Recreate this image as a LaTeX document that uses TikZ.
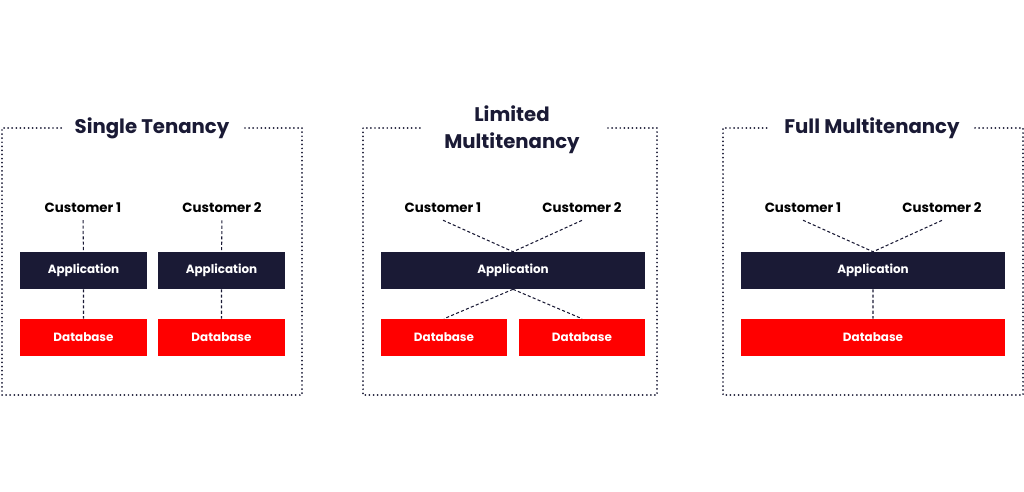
\documentclass[tikz,border=0pt]{standalone}
\usepackage{fontspec}
\setmainfont{Poppins}
\usetikzlibrary{positioning}
\definecolor{navy}{HTML}{1A1A35}
\definecolor{dbred}{HTML}{FF0000}
\tikzset{
  frame/.style={draw=navy, line width=1.4pt, line cap=round, dash pattern=on 0pt off 2.9pt},
  paneltitle/.style={text=navy, font=\fontsize{14}{19}\selectfont\bfseries, align=center},
  customer/.style={text=black, font=\fontsize{9.5}{11}\selectfont\bfseries, inner xsep=0pt, inner ysep=5pt},
  appbox/.style={fill=navy, text=white, minimum width=3.15cm, minimum height=0.925cm, inner sep=0pt, font=\fontsize{8.5}{10}\selectfont\bfseries},
  widebox/.style={appbox, minimum width=6.6cm},
  dbbox/.style={appbox, fill=dbred},
  widedb/.style={dbbox, minimum width=6.6cm},
  link/.style={draw=navy, dash pattern=on 2.2pt off 1.6pt, line width=0.75pt}
}
\begin{document}
\begin{tikzpicture}[x=0.025cm, y=-0.025cm]
  \useasboundingbox (0,0) rectangle (1024,492);

  % single tenancy
  \draw[frame] (245,128) -- (302,128) -- (302,395) -- (2,395) -- (2,128) -- (62,128);
  \node[paneltitle] (t1) at (152,128) {Single Tenancy};
  \node[customer] (s1c1) at (83,208) {Customer 1};
  \node[customer] (s1c2) at (222,208) {Customer 2};
  \node[appbox] (s1a1) at (83.5,270.5) {Application};
  \node[appbox] (s1a2) at (221.5,270.5) {Application};
  \node[dbbox] (s1d1) at (83.5,337.5) {Database};
  \node[dbbox] (s1d2) at (221.5,337.5) {Database};
  \path[link]
    (s1c1) -- (s1a1)
    (s1c2) -- (s1a2)
    (s1a1) -- (s1d1)
    (s1a2) -- (s1d2);

  % limited multitenancy
  \draw[frame] (608,128) -- (657,128) -- (657,395) -- (363,395) -- (363,128) -- (422,128);
  \node[paneltitle] (t2) at (512,130) {Limited\\Multitenancy};
  \node[customer] (s2c1) at (443,208) {Customer 1};
  \node[customer] (s2c2) at (582,208) {Customer 2};
  \node[widebox] (s2a) at (513,270.5) {Application};
  \node[dbbox] (s2d1) at (444,337.5) {Database};
  \node[dbbox] (s2d2) at (582,337.5) {Database};
  \path[link]
    (s2c1.south) -- (s2a.north)
    (s2c2.south) -- (s2a.north)
    (s2a.south) -- (s2d1.north)
    (s2a.south) -- (s2d2.north);

  % full multitenancy
  \draw[frame] (975,128) -- (1023,128) -- (1023,395) -- (723,395) -- (723,128) -- (768,128);
  \node[paneltitle] (t3) at (872,128) {Full Multitenancy};
  \node[customer] (s3c1) at (803,208) {Customer 1};
  \node[customer] (s3c2) at (942,208) {Customer 2};
  \node[widebox] (s3a) at (873,270.5) {Application};
  \node[widedb] (s3d) at (873,337.5) {Database};
  \path[link]
    (s3c1.south) -- (s3a.north)
    (s3c2.south) -- (s3a.north)
    (s3a) -- (s3d);
\end{tikzpicture}
\end{document}
